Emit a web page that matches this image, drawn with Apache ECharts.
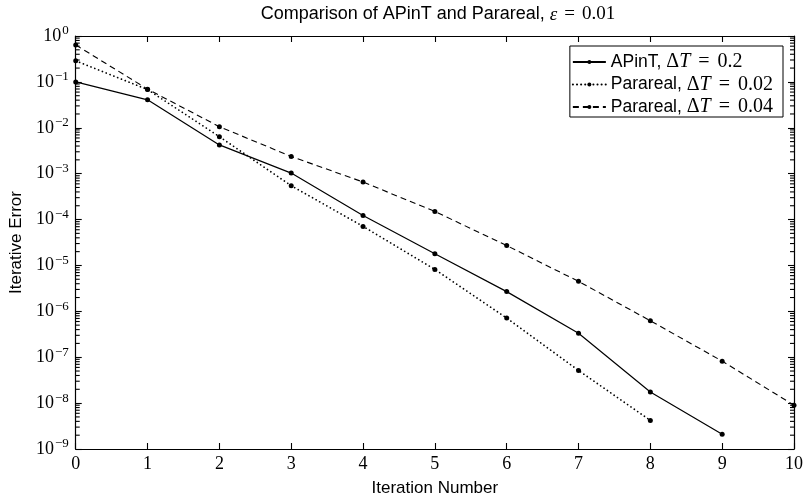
<!DOCTYPE html>
<html>
<head>
<meta charset="utf-8">
<script src="https://cdn.jsdelivr.net/npm/echarts@6/dist/echarts.min.js"></script>
<style>html,body{margin:0;padding:0;background:#fff}#c{width:806px;height:502px}</style>
</head>
<body>
<div id="c"></div>
<script>
// Data
const iterations = [0, 1, 2, 3, 4, 5, 6, 7, 8, 9, 10];
const apintValues = [0.1, 0.0406, 0.00423, 1.03e-3, 1.23e-4, 1.79e-5, 2.69e-6, 3.32e-7, 1.75e-8, 2.09e-9];
const parareal002Values = [0.288, 0.068, 6.41e-3, 5.47e-4, 7.1e-5, 8.19e-6, 7.13e-7, 5.15e-8, 4.2e-9];
const parareal004Values = [0.638, 0.0695, 0.01055, 2.37e-3, 6.58e-4, 1.5e-4, 2.71e-5, 4.5e-6, 6.23e-7, 8.22e-8, 9.0e-9];
const seriesNames = ['APinT, ΔT = 0.2', 'Parareal, ΔT = 0.02', 'Parareal, ΔT = 0.04'];
const legendLabels = {
  'APinT, ΔT = 0.2': 'APinT, {m|Δ}{i|T}{e|=}{m|0.2}',
  'Parareal, ΔT = 0.02': 'Parareal, {m|Δ}{i|T}{e|=}{m|0.02}',
  'Parareal, ΔT = 0.04': 'Parareal, {m|Δ}{i|T}{e|=}{m|0.04}'
};
const minorTickValues = [];
for (let e = -9; e < 0; e++) {
  for (let k = 2; k <= 9; k++) minorTickValues.push(k * Math.pow(10, e));
}
const xMin = 0, xMax = 10;

function pairs(vals) { return vals.map((v, i) => [iterations[i], v]); }

const serif = 'Liberation Serif';
const sans = 'Liberation Sans';
const supFmt = function (v) {
  const e = Math.round(Math.log10(v));
  const s = e < 0 ? '−' + (-e) : String(e);
  return '{b|10}{s|' + s + '}';
};
const supRich = {
  b: { fontFamily: serif, fontSize: 18, color: '#000' },
  s: { fontFamily: serif, fontSize: 13, color: '#000', padding: [0, 0, 10, 1] }
};
const tickStyle = { color: '#000', width: 1.1 };
const lineStyleAx = { color: '#000', width: 1.2 };

const chart = echarts.init(document.getElementById('c'));
chart.setOption({
  animation: false,
  backgroundColor: '#fff',
  title: {
    text: 'Comparison of APinT and Parareal, {m|ε}{e|=}{n|0.01}',
    left: 433, top: 0, textAlign: 'center',
    textStyle: {
      fontFamily: sans, fontSize: 18, fontWeight: 'normal', color: '#000',
      rich: {
        m: { fontFamily: serif, fontStyle: 'italic', fontSize: 19, color: '#000' },
        e: { fontFamily: serif, fontSize: 19, color: '#000', padding: [0, 7, 0, 7] },
        n: { fontFamily: serif, fontSize: 19, color: '#000' }
      }
    }
  },
  legend: {
    data: seriesNames,
    orient: 'vertical',
    right: 23, top: 46,
    backgroundColor: '#fff',
    borderColor: '#000', borderWidth: 1, borderRadius: 0,
    padding: [6, 10, 0, 2],
    itemGap: 2.5,
    itemWidth: 33, itemHeight: 5,
    formatter: n => legendLabels[n],
    textStyle: {
      fontFamily: sans, fontSize: 17.5, color: '#000',
      rich: {
        m: { fontFamily: serif, fontSize: 20, color: '#000' },
        i: { fontFamily: serif, fontStyle: 'italic', fontSize: 20, color: '#000' },
        e: { fontFamily: serif, fontSize: 20, color: '#000', padding: [0, 8, 0, 8] }
      }
    }
  },
  grid: { left: 75, right: 9, top: 36, bottom: 50 },
  xAxis: [{
    type: 'value', min: xMin, max: xMax, interval: 1, position: 'bottom',
    name: 'Iteration Number', nameLocation: 'middle', nameGap: 31,
    nameTextStyle: { fontFamily: sans, fontSize: 17, color: '#000' },
    axisLine: { show: true, onZero: false, lineStyle: lineStyleAx },
    axisTick: { show: true, inside: true, length: 6, lineStyle: tickStyle },
    axisLabel: { fontFamily: serif, fontSize: 18, color: '#000', margin: 6 },
    splitLine: { show: false }
  }, {
    type: 'value', min: xMin, max: xMax, interval: 1, position: 'top',
    axisLine: { show: true, onZero: false, lineStyle: lineStyleAx },
    axisTick: { show: true, inside: true, length: 6, lineStyle: tickStyle },
    axisLabel: { show: false },
    splitLine: { show: false }
  }],
  yAxis: [{
    type: 'log', logBase: 10, min: 1e-9, max: 1, interval: 1, position: 'left',
    name: 'Iterative Error', nameLocation: 'middle', nameGap: 50,
    nameTextStyle: { fontFamily: sans, fontSize: 17, color: '#000' },
    axisLine: { show: true, onZero: false, lineStyle: lineStyleAx },
    axisTick: { show: true, inside: true, length: 6, lineStyle: tickStyle },
    axisLabel: { formatter: supFmt, rich: supRich, margin: 7 },
    splitLine: { show: false }
  }, {
    type: 'log', logBase: 10, min: 1e-9, max: 1, interval: 1, position: 'right',
    axisLine: { show: true, onZero: false, lineStyle: lineStyleAx },
    axisTick: { show: true, inside: true, length: 6, lineStyle: tickStyle },
    axisLabel: { show: false },
    splitLine: { show: false }
  }],
  series: [{
    name: seriesNames[0], type: 'line', data: pairs(apintValues),
    symbol: 'circle', symbolSize: 5,
    itemStyle: { color: '#000' },
    lineStyle: { color: '#000', width: 1.2, type: 'solid' }
  }, {
    name: seriesNames[1], type: 'line', data: pairs(parareal002Values),
    symbol: 'circle', symbolSize: 5,
    itemStyle: { color: '#000' },
    lineStyle: { color: '#000', width: 1.7, type: [0.1, 4], cap: 'round' }
  }, {
    name: seriesNames[2], type: 'line', data: pairs(parareal004Values),
    symbol: 'circle', symbolSize: 5,
    itemStyle: { color: '#000' },
    lineStyle: { color: '#000', width: 1.1, type: [6, 4] }
  }, {
    name: 'minorTicksLeft', type: 'scatter', silent: true, clip: false, z: 1,
    data: minorTickValues.map(v => [xMin, v]),
    symbol: 'rect', symbolSize: [4, 1.1], symbolOffset: [2, 0],
    itemStyle: { color: '#000', opacity: 1 }
  }, {
    name: 'minorTicksRight', type: 'scatter', silent: true, clip: false, z: 1,
    data: minorTickValues.map(v => [xMax, v]),
    symbol: 'rect', symbolSize: [4, 1.1], symbolOffset: [-2, 0],
    itemStyle: { color: '#000', opacity: 1 }
  }]
});
</script>
</body>
</html>
